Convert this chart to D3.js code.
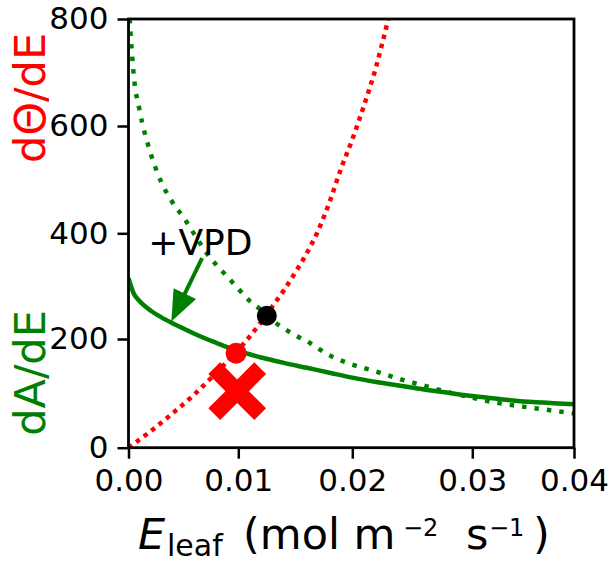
<!DOCTYPE html>
<html>
<head>
<meta charset="utf-8">
<script src="https://cdn.jsdelivr.net/npm/d3@7"></script>
<style>
  body { margin: 0; background: #fff; }
  text { font-family: "DejaVu Sans", sans-serif; }
</style>
</head>
<body>
<svg width="612" height="562"></svg>
<script>
// ticks
const xTicks = [0, 0.01, 0.02, 0.03, 0.04];
const yTicks = [0, 200, 400, 600, 800];

// dTheta/dE (red dotted)
const thetaE = [0, 0.002, 0.004, 0.006, 0.008, 0.010, 0.012, 0.013, 0.014, 0.015, 0.016, 0.017, 0.018, 0.019, 0.020, 0.021, 0.022, 0.0225, 0.023];
const thetaV = [0, 30, 63, 98, 138, 180, 232, 262, 292, 326, 362, 405, 458, 520, 575, 640, 712, 755, 800];

// dA/dE before VPD rise (green dotted)
const dAE0 = [0.0001, 0.0005, 0.001, 0.002, 0.003, 0.004, 0.005, 0.006, 0.007, 0.008, 0.009, 0.010, 0.011, 0.012, 0.013, 0.014, 0.015, 0.016, 0.018, 0.020, 0.022, 0.024, 0.026, 0.028, 0.030, 0.032, 0.034, 0.036, 0.038, 0.040];
const dAV0 = [800, 690, 630, 550, 495, 458, 430, 398, 366, 340, 318, 295, 272, 255, 235, 220, 207, 196, 170, 153, 140, 126, 114, 102, 92, 84, 78, 73, 68, 63];

// dA/dE after VPD rise (green solid)
const dAE1 = [0, 0.0005, 0.001, 0.002, 0.003, 0.004, 0.005, 0.006, 0.007, 0.008, 0.009, 0.010, 0.012, 0.014, 0.016, 0.018, 0.020, 0.022, 0.024, 0.026, 0.028, 0.030, 0.032, 0.034, 0.036, 0.038, 0.040];
const dAV1 = [315, 285, 272, 254, 241, 230, 220, 210, 201, 193, 185, 178, 166, 156, 147, 138, 129, 121, 114, 107, 101, 95, 91, 87, 84, 82, 80];

// optimum points
const oldOpt = [0.0125, 244];   // black
const newOpt = [0.0098, 174];   // red dot
const crossPt = [0.0099, 104];  // red X

// annotation
const vpdText = [0.0018, 359];
const arrowFrom = [0.0067, 353];
const arrowTo = [0.0039, 233];

const svg = d3.select("svg");
const red = "#ff0000", green = "#008000";

const x = d3.scaleLinear().domain(xTicks).range([128.5, 238.3, 352.3, 472.3, 574]);
const y = d3.scaleLinear().domain(yTicks).range([447.7, 339, 233.3, 126, 19]);

svg.append("clipPath").attr("id", "clip")
  .append("rect")
  .attr("x", x(0)).attr("y", y(800))
  .attr("width", x(0.04) - x(0)).attr("height", y(0) - y(800));

const line = d3.line()
  .x(d => x(d[0]))
  .y(d => y(d[1]))
  .curve(d3.curveMonotoneX);

const plot = svg.append("g").attr("clip-path", "url(#clip)");

plot.append("path")
  .datum(d3.zip(dAE0, dAV0))
  .attr("d", line)
  .attr("fill", "none")
  .attr("stroke", green)
  .attr("stroke-width", 4.5)
  .attr("stroke-dasharray", "4.5,8");

plot.append("path")
  .datum(d3.zip(thetaE, thetaV))
  .attr("d", line)
  .attr("fill", "none")
  .attr("stroke", red)
  .attr("stroke-width", 4.5)
  .attr("stroke-dasharray", "4.5,5");

plot.append("path")
  .datum(d3.zip(dAE1, dAV1))
  .attr("d", line)
  .attr("fill", "none")
  .attr("stroke", green)
  .attr("stroke-width", 4.5);

// markers
svg.append("circle")
  .attr("cx", x(oldOpt[0])).attr("cy", y(oldOpt[1]))
  .attr("r", 10).attr("fill", "#000");

svg.append("circle")
  .attr("cx", x(newOpt[0])).attr("cy", y(newOpt[1]))
  .attr("r", 10.5).attr("fill", red);

// filled X marker
{
  const cx = x(crossPt[0]), cy = y(crossPt[1]);
  const w = 8.3, L = 32.5;
  const a = Math.PI / 4;
  const pts = [[w, w], [w, L], [-w, L], [-w, w], [-L, w], [-L, -w], [-w, -w], [-w, -L], [w, -L], [w, -w], [L, -w], [L, w]]
    .map(([px, py]) => [cx + px * Math.cos(a) - py * Math.sin(a), cy + px * Math.sin(a) + py * Math.cos(a)]);
  svg.append("path")
    .attr("d", "M" + pts.join("L") + "Z")
    .attr("fill", red);
}

// +VPD arrow
{
  const x0 = x(arrowFrom[0]), y0 = y(arrowFrom[1]);
  const x1 = x(arrowTo[0]), y1 = y(arrowTo[1]);
  const len = Math.hypot(x1 - x0, y1 - y0);
  const ux = (x1 - x0) / len, uy = (y1 - y0) / len;
  const hl = 31, hw = 12.5;
  const bx = x1 - ux * hl, by = y1 - uy * hl;
  svg.append("line")
    .attr("x1", x0).attr("y1", y0)
    .attr("x2", bx + ux * 2).attr("y2", by + uy * 2)
    .attr("stroke", green).attr("stroke-width", 4);
  svg.append("path")
    .attr("d", `M${x1},${y1}L${bx - uy * hw},${by + ux * hw}L${bx + uy * hw},${by - ux * hw}Z`)
    .attr("fill", green);
}

svg.append("text")
  .attr("x", x(vpdText[0])).attr("y", y(vpdText[1]))
  .attr("font-size", 36)
  .text("+VPD");

// axes
const xAxis = svg.append("g")
  .attr("transform", `translate(0,${y(0)})`)
  .call(d3.axisBottom(x).tickValues(xTicks).tickFormat(d3.format(".2f")).tickSize(11).tickSizeOuter(0).tickPadding(10));

const yAxis = svg.append("g")
  .attr("transform", `translate(${x(0)},0)`)
  .call(d3.axisLeft(y).tickValues(yTicks).tickSize(11).tickSizeOuter(0).tickPadding(9));

[xAxis, yAxis].forEach(g => {
  g.select(".domain").remove();
  g.selectAll("line").attr("stroke", "#000").attr("stroke-width", 2.5);
  g.selectAll("text").attr("font-size", 31).attr("fill", "#000")
    .attr("font-family", "DejaVu Sans, sans-serif");
});

svg.append("rect")
  .attr("x", x(0)).attr("y", y(800))
  .attr("width", x(0.04) - x(0)).attr("height", y(0) - y(800))
  .attr("fill", "none").attr("stroke", "#000").attr("stroke-width", 2.8);

// y labels
svg.append("text")
  .attr("transform", "translate(45,98) rotate(-90)")
  .attr("text-anchor", "middle")
  .attr("font-size", 43)
  .attr("fill", red)
  .text("dΘ/dE");

svg.append("text")
  .attr("transform", "translate(45,373) rotate(-90)")
  .attr("text-anchor", "middle")
  .attr("font-size", 43)
  .attr("fill", green)
  .text("dA/dE");

// x label, pieces placed like the mathtext in the original
const xl = svg.append("text")
  .attr("y", 549)
  .attr("font-size", 43);
xl.append("tspan").attr("x", 138).attr("font-style", "italic").text("E");
xl.append("tspan").attr("x", 167).attr("font-size", 30).attr("dy", 7).text("leaf");
xl.append("tspan").attr("x", 243).attr("dy", -7).text("(mol m");
xl.append("tspan").attr("x", 403).attr("font-size", 24).attr("dy", -13).text("−2");
xl.append("tspan").attr("x", 466).attr("dy", 13).text("s");
xl.append("tspan").attr("x", 489).attr("font-size", 24).attr("dy", -13).text("−1");
xl.append("tspan").attr("x", 533).attr("dy", 13).text(")");
</script>
</body>
</html>
